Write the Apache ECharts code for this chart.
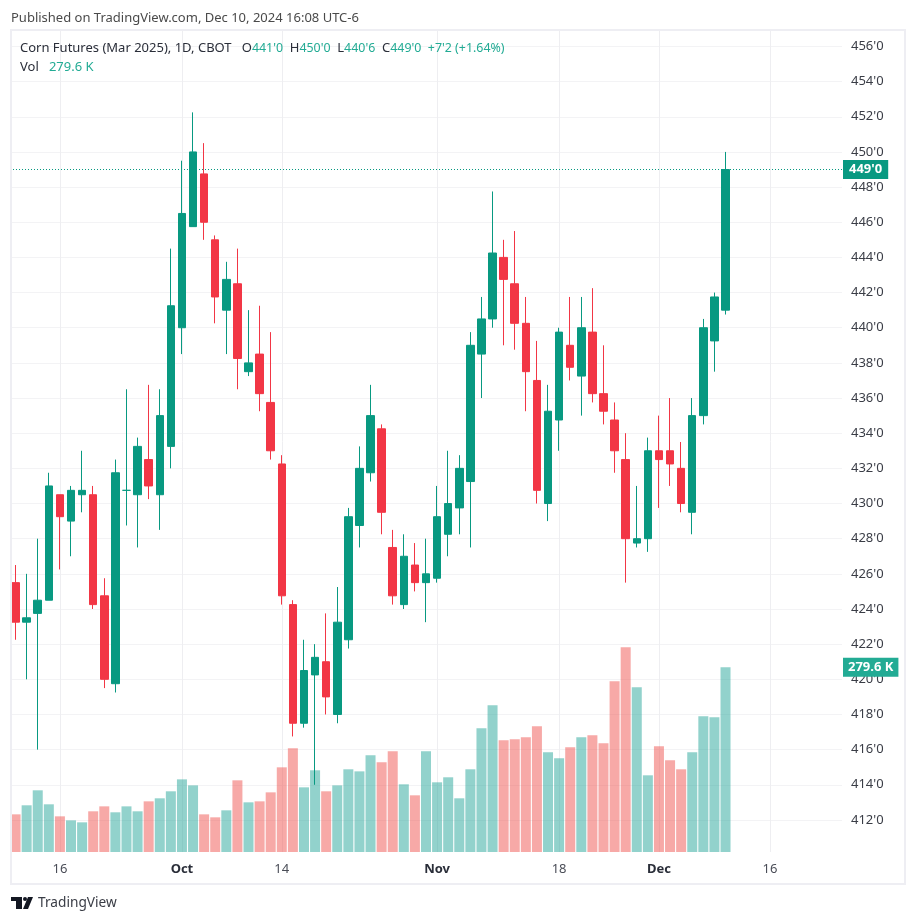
<!DOCTYPE html>
<html>
<head>
<meta charset="utf-8">
<style>html,body{margin:0;padding:0;background:#fff}#chart{width:916px;height:923px}</style>
<script src="https://cdn.jsdelivr.net/npm/echarts@6/dist/echarts.min.js"></script>
</head>
<body>
<div id="chart"></div>
<script>
var fontName = '"Noto Sans", sans-serif';
var upColor = '#089981';
var downColor = '#F23645';

// one row per session: open, close, low, high (10 Sep - 10 Dec 2024)
var candles = [
    [425.5,423.25,422.25,426.5],[423.25,423.5,420,426],[423.75,424.5,416,428],[424.5,431,424.5,431.75],
    [430.5,429.25,426.25,430.5],[429,430.75,427,431],[430.5,430.75,429.5,433],[430.5,424.25,424,431],
    [424.75,420,419.5,425.75],[419.75,431.75,419.25,432.5],[430.75,430.75,428.75,436.5],[430.5,433.25,427.5,433.75],
    [432.5,431,430.25,436.75],[430.5,435,428.5,436.5],[433.25,441.25,432,444.5],[440,446.5,438.5,449.5],
    [445.75,450,445.75,452.25],[448.75,446,445,450.5],[445,441.75,440.25,445.25],[441,442.75,438.5,443.75],
    [442.5,438.25,436.5,444.5],[437.5,438,437.25,441],[438.5,436.25,435.25,441.25],[435.75,433,432.5,439.75],
    [432.25,424.75,424.25,432.75],[424.25,417.5,416.75,424.5],[417.5,420.5,417.25,422.25],[420.25,421.25,414,422],
    [421,419,418,423.75],[418,423.25,417.5,425.25],[422.25,429.25,421.75,429.75],[428.75,432,427.5,433.25],
    [431.75,435,431.25,436.75],[434.25,429.5,428.25,434.5],[427.5,424.75,424.25,428.5],[424.25,427,424,428.25],
    [426.5,425.5,425,427.75],[425.5,426,423.25,428],[425.75,429.25,425.5,431],[428.25,430,427,433],
    [429.75,432,428.25,432.75],[431.25,439,427.5,439.75],[438.5,440.5,436,441.75],[440.5,444.25,440,447.75],
    [444,442.75,439,445],[442.5,440.25,438.75,445.5],[440.25,437.5,435.25,441.75],[437,430.75,430,439.25],
    [430,435.25,429,436.75],[434.75,439.75,433,440],[439,437.75,437,441.75],[437.25,440,435,441.75],
    [439.75,436.25,435.75,442.25],[436.25,435.25,434.5,439],[434.75,433,431.75,435.75],[432.5,428,425.5,434],
    [427.75,428,427.5,431],[428,433,427.25,433.75],[433,432.5,429.75,435],[433,432.25,431,436],
    [432,430,429.5,433.5],[429.5,435,428.25,436],[435,440,434.5,440.5],[439.25,441.75,437.5,442],
    [441,449,440.75,450]
];

var volumes = [
    57.0,70.7,93.4,72.2,54.0,47.9,44.9,61.6,69.1,60.1,69.1,61.6,76.7,81.3,91.9,110.0,
    100.9,57.0,52.5,63.1,108.5,75.2,76.7,90.3,128.2,157.0,97.9,123.7,91.9,100.9,125.2,122.1,
    146.4,135.8,152.4,102.5,85.8,152.4,105.5,113.1,81.3,125.2,187.2,222.1,169.1,170.6,173.6,190.3,
    150.9,141.8,158.5,173.6,176.6,164.5,258.4,309.9,249.3,116.1,160.0,138.8,125.2,150.9,205.4,203.9,
    279.6
];

// sessions whose volume bar is red
var volumeDown = [0,4,7,8,12,17,18,20,22,23,24,25,28,33,34,36,44,45,46,47,50,52,53,54,55,58,59,60];

var tickIndex = [4, 15, 24, 38, 49, 58, 68];
var tickLabels = ['16', 'Oct', '14', 'Nov', '18', 'Dec', '16'];
var monthLabels = ['Oct', 'Nov', 'Dec'];
var slotCount = 75;

var lastPrice = 449;
var lastPriceLabel = "449'0";
var lastVolume = 279.6;
var lastVolumeLabel = '279.6 K';

function priceLabel(value) {
    return value + "'0";
}

var categories = [];
for (var i = 0; i < slotCount; i++) {
    categories.push(tickLabels[tickIndex.indexOf(i)] || '');
}

var volumeData = volumes.map(function (v, idx) {
    var isDown = volumeDown.indexOf(idx) >= 0;
    return { value: v, itemStyle: { color: isDown ? 'rgba(239,83,80,.5)' : 'rgba(38,166,154,.5)' } };
});

function isTick(idx) {
    return tickIndex.indexOf(idx) >= 0;
}

var chart = echarts.init(document.getElementById('chart'));
var legendGreen = '#22AB94';
var option = {
    animation: false,
    backgroundColor: '#fff',
    textStyle: { fontFamily: fontName },
    grid: [
        { left: 10, width: 832, top: 31, height: 821 },
        { left: 10, width: 832, top: 46.45, height: 773.5 }
    ],
    xAxis: [
        {
            type: 'category', gridIndex: 0, data: categories,
            axisLine: { show: false }, axisTick: { show: false },
            axisLabel: {
                interval: function (idx) { return isTick(idx); },
                margin: 11,
                hideOverlap: false,
                formatter: function (value) {
                    return monthLabels.indexOf(value) >= 0 ? '{b|' + value + '}' : value;
                },
                color: '#4a4d57', fontSize: 13, fontFamily: fontName,
                rich: { b: { fontWeight: 'bold', color: '#2a2e39', fontSize: 13, fontFamily: fontName } }
            },
            splitLine: {
                show: true,
                alignWithLabel: true,
                interval: function (idx) { return isTick(idx); },
                lineStyle: { color: '#eeeef1', width: 1 }
            }
        },
        {
            type: 'category', gridIndex: 1, data: categories, show: false
        }
    ],
    yAxis: [
        {
            type: 'value', gridIndex: 0, min: 0, max: 1243, show: false, splitLine: { show: false }
        },
        {
            type: 'value', gridIndex: 1, position: 'right', min: 412, max: 456, interval: 2,
            axisLine: { show: false }, axisTick: { show: false },
            axisLabel: { margin: 9, color: '#3a3d46', fontSize: 13, fontFamily: fontName, formatter: priceLabel },
            splitLine: { show: true, lineStyle: { color: '#f3f3f5', width: 1 } }
        }
    ],
    series: [
        {
            name: 'Vol', type: 'bar', xAxisIndex: 0, yAxisIndex: 0, data: volumeData,
            barWidth: 10, z: 2, silent: true,
            markLine: {
                silent: true, symbol: 'none', animation: false,
                lineStyle: { color: 'transparent', width: 0 },
                data: [{ yAxis: lastVolume }],
                label: {
                    position: 'end', distance: 1, formatter: lastVolumeLabel,
                    backgroundColor: legendGreen, color: '#fff', fontWeight: 'bold', fontSize: 13,
                    fontFamily: fontName, padding: [3, 5]
                }
            }
        },
        {
            name: 'Corn Futures', type: 'candlestick', xAxisIndex: 1, yAxisIndex: 1, data: candles,
            barWidth: 8, z: 3, silent: true,
            itemStyle: {
                color: upColor, color0: downColor,
                borderColor: upColor, borderColor0: downColor, borderColorDoji: upColor,
                borderWidth: 1
            },
            markLine: {
                silent: true, symbol: 'none', animation: false,
                lineStyle: { type: [1, 2], color: upColor, width: 1 },
                data: [{ yAxis: lastPrice }],
                label: {
                    position: 'end', distance: 1, formatter: lastPriceLabel,
                    backgroundColor: upColor, color: '#fff', fontWeight: 'bold', fontSize: 13,
                    fontFamily: fontName, padding: [3, 6]
                }
            }
        }
    ],
    graphic: [
        {
            type: 'rect', z: 50, silent: true,
            shape: { x: 11, y: 30, width: 894, height: 854 },
            style: { fill: 'none', stroke: '#eeeef3', lineWidth: 2 }
        },
        {
            type: 'text', z: 60, left: 11, top: 12,
            style: {
                text: 'Published on TradingView.com, Dec 10, 2024 16:08 UTC-6',
                fill: '#4a4a4a', fontSize: 13, fontFamily: fontName
            }
        },
        {
            type: 'text', z: 60, left: 20, top: 42,
            style: {
                text: "{d|Corn Futures (Mar 2025), 1D, CBOT   O}{g|441'0}{d|  H}{g|450'0}{d|  L}{g|440'6}{d|  C}{g|449'0}{g|  +7'2 (+1.64%)}",
                fontSize: 13, fontFamily: fontName,
                rich: {
                    d: { fill: '#2a2e39', fontSize: 13, fontFamily: fontName },
                    g: { fill: legendGreen, fontSize: 12.4, fontFamily: fontName }
                }
            }
        },
        {
            type: 'text', z: 60, left: 20, top: 61,
            style: {
                text: '{d|Vol   }{g|' + lastVolumeLabel + '}',
                fontSize: 13, fontFamily: fontName,
                rich: {
                    d: { fill: '#2a2e39', fontSize: 13, fontFamily: fontName },
                    g: { fill: legendGreen, fontSize: 13, fontFamily: fontName }
                }
            }
        },
        // TradingView logo
        {
            type: 'polygon', z: 60, silent: true,
            shape: { points: [[11, 897], [22, 897], [22, 909], [16, 909], [16, 901], [11, 901]] },
            style: { fill: '#131722' }
        },
        {
            type: 'circle', z: 60, silent: true,
            shape: { cx: 25, cy: 899, r: 2 },
            style: { fill: '#131722' }
        },
        {
            type: 'polygon', z: 60, silent: true,
            shape: { points: [[28, 897], [33, 897], [28, 909], [23, 909]] },
            style: { fill: '#131722' }
        },
        {
            type: 'text', z: 60, left: 38, top: 896,
            style: { text: 'TradingView', fill: '#3a3d46', fontSize: 13.7, fontFamily: fontName }
        }
    ]
};
chart.setOption(option);
</script>
</body>
</html>
